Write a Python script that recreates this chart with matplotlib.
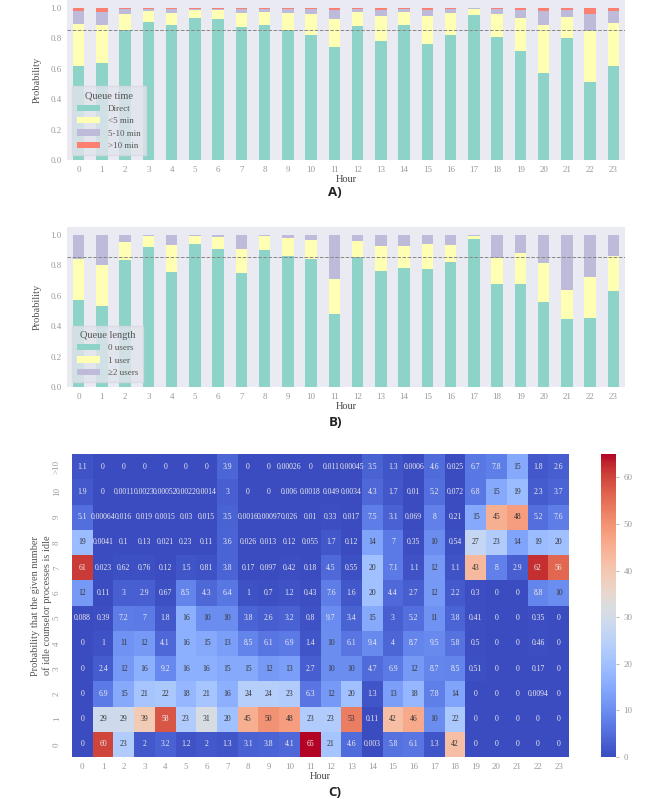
import numpy as np
import matplotlib
matplotlib.use("Agg")
import matplotlib.pyplot as plt

plt.rcParams["font.family"] = ["Liberation Serif", "DejaVu Serif"]

hours = list(range(24))

# A) queue time fractions per hour
direct = [0.616, 0.638, 0.852, 0.908, 0.884, 0.934, 0.928, 0.873, 0.884, 0.852, 0.823, 0.740,
          0.878, 0.782, 0.884, 0.764, 0.821, 0.954, 0.808, 0.716, 0.572, 0.803, 0.513, 0.616]
lt5 = [0.275, 0.246, 0.107, 0.068, 0.083, 0.049, 0.055, 0.092, 0.090, 0.113, 0.138, 0.186,
       0.091, 0.166, 0.085, 0.181, 0.144, 0.035, 0.153, 0.218, 0.312, 0.136, 0.332, 0.286]
m5_10 = [0.085, 0.085, 0.030, 0.017, 0.024, 0.010, 0.010, 0.024, 0.015, 0.026, 0.030, 0.057,
         0.020, 0.039, 0.024, 0.042, 0.028, 0.009, 0.032, 0.053, 0.092, 0.044, 0.116, 0.076]
gt10 = [0.024, 0.031, 0.011, 0.007, 0.009, 0.007, 0.007, 0.011, 0.011, 0.009, 0.009, 0.017,
        0.011, 0.013, 0.007, 0.013, 0.007, 0.002, 0.007, 0.013, 0.024, 0.017, 0.039, 0.022]
time_threshold = 0.85

# B) queue length fractions per hour
users0 = [0.573, 0.534, 0.834, 0.919, 0.755, 0.941, 0.904, 0.748, 0.902, 0.860, 0.842, 0.481,
          0.851, 0.761, 0.781, 0.777, 0.818, 0.974, 0.678, 0.678, 0.558, 0.444, 0.451, 0.630]
users1 = [0.267, 0.269, 0.118, 0.070, 0.179, 0.048, 0.078, 0.158, 0.087, 0.116, 0.121, 0.230,
          0.105, 0.167, 0.145, 0.160, 0.116, 0.019, 0.167, 0.199, 0.258, 0.191, 0.273, 0.232]
users2 = [1 - a - b for a, b in zip(users0, users1)]
length_threshold = 0.853

# C) idle processes heatmap (rows top to bottom: >10, 10, 9, ..., 0)
idle_labels = [">10", "10", "9", "8", "7", "6", "5", "4", "3", "2", "1", "0"]
idle = [
    [1.1, 0, 0, 0, 0, 0, 0, 3.9, 0, 0, 0.00026, 0, 0.011, 0.00045, 3.5, 1.3, 0.0006, 4.6, 0.025, 6.7, 7.8, 15, 1.8, 2.6],
    [1.9, 0, 0.0011, 0.0023, 0.00052, 0.0022, 0.0014, 3, 0, 0, 0.006, 0.0018, 0.049, 0.0034, 4.3, 1.7, 0.01, 5.2, 0.072, 6.8, 15, 19, 2.3, 3.7],
    [5.1, 0.00064, 0.016, 0.019, 0.0015, 0.03, 0.015, 3.5, 0.0016, 0.00097, 0.026, 0.01, 0.33, 0.017, 7.5, 3.1, 0.069, 8, 0.21, 15, 45, 48, 5.2, 7.6],
    [19, 0.0041, 0.1, 0.13, 0.021, 0.23, 0.11, 3.6, 0.026, 0.013, 0.12, 0.055, 1.7, 0.12, 14, 7, 0.35, 10, 0.54, 27, 23, 14, 19, 20],
    [61, 0.023, 0.62, 0.76, 0.12, 1.5, 0.81, 3.8, 0.17, 0.097, 0.42, 0.18, 4.5, 0.55, 20, 7.1, 1.1, 12, 1.1, 43, 8, 2.9, 62, 56],
    [12, 0.11, 3, 2.9, 0.67, 8.5, 4.3, 6.4, 1, 0.7, 1.2, 0.43, 7.6, 1.6, 20, 4.4, 2.7, 12, 2.2, 0.3, 0, 0, 8.8, 10],
    [0.088, 0.39, 7.2, 7, 1.8, 16, 10, 10, 3.8, 2.6, 3.2, 0.8, 9.7, 3.4, 15, 3, 5.2, 11, 3.8, 0.41, 0, 0, 0.35, 0],
    [0, 1, 11, 12, 4.1, 16, 15, 13, 8.5, 6.1, 6.9, 1.4, 10, 6.1, 9.4, 4, 8.7, 9.5, 5.8, 0.5, 0, 0, 0.46, 0],
    [0, 2.4, 12, 16, 9.2, 16, 16, 15, 15, 12, 13, 2.7, 10, 10, 4.7, 6.9, 12, 8.7, 8.5, 0.51, 0, 0, 0.17, 0],
    [0, 6.9, 15, 21, 22, 18, 21, 16, 24, 24, 23, 6.3, 12, 20, 1.3, 13, 18, 7.8, 14, 0, 0, 0, 0.0094, 0],
    [0, 29, 29, 39, 58, 23, 31, 20, 45, 50, 48, 23, 23, 53, 0.11, 42, 46, 10, 22, 0, 0, 0, 0, 0],
    [0, 60, 23, 2, 3.2, 1.2, 2, 1.3, 3.1, 3.8, 4.1, 65, 21, 4.6, 0.003, 5.8, 6.1, 1.3, 42, 0, 0, 0, 0, 0],
]

set3 = ["#8dd3c7", "#ffffb3", "#bebada", "#fb8072"]
tick_gray = "#9a9a9a"
label_gray = "#555555"


def style_bar_axes(ax):
    ax.set_facecolor("#eaeaf2")
    for s in ax.spines.values():
        s.set_visible(False)
    ax.set_xlim(-0.5, 23.5)
    ax.set_ylim(0, 1.05)
    ax.set_xticks(hours)
    ax.set_yticks(np.arange(0, 1.01, 0.2))
    ax.tick_params(length=0, labelsize=6.5, labelcolor=tick_gray, pad=4)
    ax.set_xlabel("Hour", fontsize=7.5, color="#444444", labelpad=1)
    ax.set_ylabel("Probability", fontsize=7.5, color=label_gray, labelpad=6)


def stacked(ax, series, names, title, threshold):
    bottom = np.zeros(len(hours))
    for vals, name, c in zip(series, names, set3):
        ax.bar(hours, vals, width=0.5, bottom=bottom, color=c, label=name, zorder=2)
        bottom += np.array(vals)
    ax.axhline(threshold, color="#888888", ls="--", lw=0.7, zorder=3)
    leg = ax.legend(title=title, loc="lower left", fontsize=6.5, title_fontsize=7.5,
                    frameon=True, fancybox=False, handlelength=2.6, borderpad=0.6,
                    labelspacing=0.45)
    leg.get_frame().set_facecolor("#e2e4ec")
    leg.get_frame().set_edgecolor("#d8d8e0")
    for t in leg.get_texts():
        t.set_color(label_gray)
    leg.get_title().set_color(label_gray)


fig = plt.figure(figsize=(6.66, 7.99), dpi=100)

axA = fig.add_axes([67 / 666, 1 - 160 / 799, 558 / 666, 160 / 799])
style_bar_axes(axA)
stacked(axA, [direct, lt5, m5_10, gt10], ["Direct", "<5 min", "5-10 min", ">10 min"],
        "Queue time", time_threshold)

axB = fig.add_axes([67 / 666, 1 - 387 / 799, 558 / 666, 160 / 799])
style_bar_axes(axB)
stacked(axB, [users0, users1, users2], ["0 users", "1 user", "≥2 users"],
        "Queue length", length_threshold)

axC = fig.add_axes([72 / 666, 42 / 799, 497 / 666, 303 / 799])
cax = fig.add_axes([601 / 666, 42 / 799, 15 / 666, 303 / 799])
data = np.array(idle)
vmax = data.max()
cmap = plt.get_cmap("coolwarm")
mesh = axC.pcolormesh(data, cmap=cmap, vmin=0, vmax=vmax)
axC.set_ylim(len(idle_labels), 0)
axC.set_xticks(np.arange(24) + 0.5)
axC.set_xticklabels(hours)
axC.set_yticks(np.arange(len(idle_labels)) + 0.5)
axC.set_yticklabels(idle_labels, rotation=90, va="center")
axC.tick_params(length=0, labelsize=6.5, labelcolor=tick_gray, pad=8)
axC.tick_params(axis="x", pad=4)
for s in axC.spines.values():
    s.set_visible(False)
axC.set_xlabel("Hour", fontsize=7.5, color="#444444", labelpad=1)
axC.set_ylabel("Probability that the given number\nof idle counselor processes is idle",
               fontsize=7.5, color=label_gray, labelpad=1)

for i in range(data.shape[0]):
    for j in range(data.shape[1]):
        v = data[i, j]
        r, g, b, _ = cmap(v / vmax)
        lum = 0.2126 * r + 0.7152 * g + 0.0722 * b
        col = "#333333" if lum > 0.55 else "#eeeeee"
        axC.text(j + 0.5, i + 0.5, f"{v:.2g}", ha="center", va="center",
                 fontsize=5.5, color=col)

cb = fig.colorbar(mesh, cax=cax)
cb.outline.set_visible(False)
cb.set_ticks(np.arange(0, 61, 10))
cax.tick_params(length=2, width=0.5, color=tick_gray, labelsize=6.5, labelcolor=tick_gray)

for label, y in [("A)", 193), ("B)", 423), ("C)", 792)]:
    fig.text(335 / 666, 1 - y / 799, label, ha="center", va="center", fontsize=9.5,
             fontweight="bold", family=["Open Sans", "DejaVu Sans"], color="#222222")

fig.savefig("out.png", dpi=100)
